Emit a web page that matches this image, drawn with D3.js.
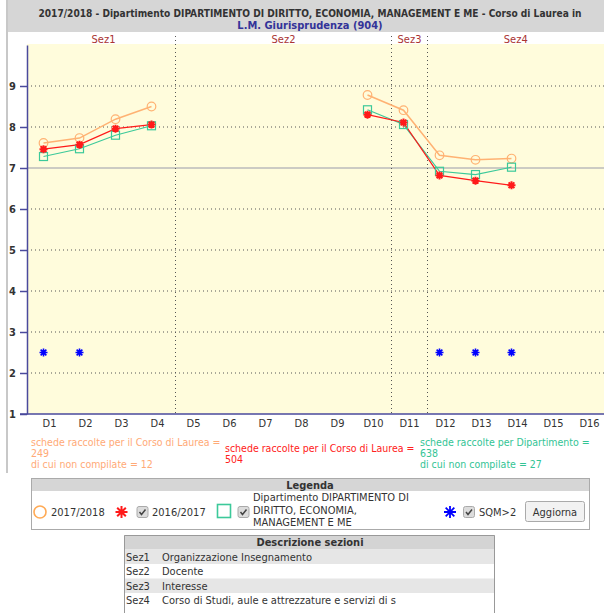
<!DOCTYPE html>
<html>
<head>
<meta charset="utf-8">
<script src="https://cdn.jsdelivr.net/npm/d3@7"></script>
<style>
  body { margin: 0; background: #fff; }
  svg text { font-family: "DejaVu Sans Condensed", "DejaVu Sans", sans-serif; fill: #333; }
</style>
</head>
<body>
<svg id="chart" width="604" height="613"></svg>
<script>
// data
const categories = ['D1','D2','D3','D4','D5','D6','D7','D8','D9','D10','D11','D12','D13','D14','D15','D16'];
const yTicks = [1, 2, 3, 4, 5, 6, 7, 8, 9];
const sectionNames = ['Sez1', 'Sez2', 'Sez3', 'Sez4'];
const sectionFirst = ['D1', 'D5', 'D11', 'D12'];
const sectionLast = ['D4', 'D10', 'D11', 'D16'];
const sectionDesc = ['Organizzazione Insegnamento', 'Docente', 'Interesse', 'Corso di Studi, aule e attrezzature e servizi di s'];

const val2018 = [7.61, 7.73, 8.19, 8.50, null, null, null, null, null, 8.78, 8.41, 7.31, 7.20, 7.23, null, null];
const val2017 = [7.46, 7.57, 7.96, 8.06, null, null, null, null, null, 8.30, 8.11, 6.82, 6.69, 6.58, null, null];
const valDip  = [7.28, 7.47, 7.80, 8.03, null, null, null, null, null, 8.42, 8.06, 6.92, 6.84, 7.02, null, null];
const valSqm  = [2.5, 2.5, null, null, null, null, null, null, null, null, null, 2.5, 2.5, 2.5, null, null];
const threshold = 7;

const title1 = '2017/2018 - Dipartimento DIPARTIMENTO DI DIRITTO, ECONOMIA, MANAGEMENT E ME - Corso di Laurea in';
const title2 = 'L.M. Giurisprudenza (904)';

const orange = '#ffb273', red = '#ff1a1a', green = '#3cc99a', blue = '#0000ff', axisCol = '#4a4a9c';

const svg = d3.select('#chart');

//header
svg.append('rect').attr('x', 7).attr('y', 0).attr('width', 597).attr('height', 32).attr('fill', '#d6d6d6');
svg.append('rect').attr('x', 6).attr('y', 0).attr('width', 2).attr('height', 473).attr('fill', '#c8c8c8');
svg.append('text').attr('x', 310).attr('y', 17).attr('text-anchor', 'middle')
  .style('font-weight', 'bold').style('font-size', '10.1px').text(title1);
svg.append('text').attr('x', 310).attr('y', 29).attr('text-anchor', 'middle')
  .style('font-weight', 'bold').style('font-size', '11px').style('fill', '#333399').text(title2);

//plot area
const pLeft = 27, pRight = 604, pTop = 44, pBottom = 414;
const x = d3.scaleBand().domain(categories).range([31.5, 607.5]);
const markX = d => x(d) + x.bandwidth() / 2 - 6;
const y = d3.scaleLinear().domain([1, 10]).range([pBottom, pTop + 1]);

svg.append('rect').attr('x', pLeft).attr('y', pTop).attr('width', pRight - pLeft).attr('height', pBottom - pTop)
  .attr('fill', '#fffcdc');

// gridlines
svg.append('g').selectAll('line').data(yTicks.filter(t => t > 1))
  .enter().append('line')
  .attr('x1', pLeft).attr('x2', pRight)
  .attr('y1', d => y(d)).attr('y2', d => y(d))
  .attr('stroke', d => d === threshold ? '#bbb' : '#555')
  .attr('stroke-width', d => d === threshold ? 1.5 : 1)
  .attr('stroke-dasharray', d => d === threshold ? null : '1,3');

// section dividers and labels
const secs = sectionNames.map((n, i) => {
  const x0 = Math.max(x(sectionFirst[i]), pLeft);
  const x1 = Math.min(x(sectionLast[i]) + x.bandwidth(), pRight);
  return {name: n, x0: x0, x1: x1};
});
svg.append('g').selectAll('line').data(secs.slice(0, -1))
  .enter().append('line')
  .attr('x1', d => d.x1).attr('x2', d => d.x1)
  .attr('y1', 36).attr('y2', pBottom)
  .attr('stroke', '#555').attr('stroke-dasharray', '1,3');
svg.append('g').selectAll('text').data(secs)
  .enter().append('text')
  .attr('x', d => (d.x0 + d.x1) / 2).attr('y', 43)
  .attr('text-anchor', 'middle').style('font-size', '11px').style('fill', '#a33')
  .text(d => d.name);

// axes
const yAxis = d3.axisLeft(y).tickValues(yTicks).tickSize(7).tickSizeOuter(0).tickFormat(d3.format('d'));
const gy = svg.append('g').attr('transform', 'translate(' + pLeft + ',0)').call(yAxis);
gy.select('.domain').attr('stroke', axisCol).attr('stroke-width', 1.5);
gy.selectAll('.tick line').attr('stroke', axisCol).attr('stroke-width', 1.5);
gy.selectAll('.tick text').attr('x', -11).style('font-size', '11px').style('font-weight', 'bold')
  .style('font-family', '"DejaVu Sans Condensed", "DejaVu Sans", sans-serif').attr('fill', '#333');

svg.append('line').attr('x1', 20).attr('x2', pRight).attr('y1', pBottom).attr('y2', pBottom)
  .attr('stroke', axisCol).attr('stroke-width', 1.5);

const xAxis = d3.axisBottom(x).tickSize(0).tickPadding(5);
const gx = svg.append('g').attr('transform', 'translate(0,' + pBottom + ')').call(xAxis);
gx.select('.domain').remove();
gx.selectAll('.tick text').style('font-size', '11px')
  .style('font-family', '"DejaVu Sans Condensed", "DejaVu Sans", sans-serif').attr('fill', '#333');

// series
const line = d3.line()
  .defined(d => d.v != null)
  .x(d => markX(d.c))
  .y(d => y(d.v));
const pts = vals => categories.map((c, i) => ({c: c, v: vals[i]}));

const starPath = r => {
  const k = r * 0.72;
  return 'M' + (-r) + ',0L' + r + ',0M0,' + (-r) + 'L0,' + r +
    'M' + (-k) + ',' + (-k) + 'L' + k + ',' + k + 'M' + (-k) + ',' + k + 'L' + k + ',' + (-k);
};

svg.append('path').datum(pts(val2018)).attr('d', line)
  .attr('fill', 'none').attr('stroke', orange).attr('stroke-width', 1.5);
svg.append('path').datum(pts(valDip)).attr('d', line)
  .attr('fill', 'none').attr('stroke', green).attr('stroke-width', 1.2);
svg.append('path').datum(pts(val2017)).attr('d', line)
  .attr('fill', 'none').attr('stroke', red).attr('stroke-width', 1.2);

svg.append('g').selectAll('circle').data(pts(val2018).filter(d => d.v != null))
  .enter().append('circle')
  .attr('cx', d => markX(d.c)).attr('cy', d => y(d.v)).attr('r', 4.3)
  .attr('fill', 'none').attr('stroke', orange).attr('stroke-width', 1.2);

svg.append('g').selectAll('rect').data(pts(valDip).filter(d => d.v != null))
  .enter().append('rect')
  .attr('x', d => markX(d.c) - 4).attr('y', d => y(d.v) - 4).attr('width', 8).attr('height', 8)
  .attr('fill', 'none').attr('stroke', green).attr('stroke-width', 1.2);

svg.append('g').selectAll('path').data(pts(val2017).filter(d => d.v != null))
  .enter().append('path')
  .attr('transform', d => 'translate(' + markX(d.c) + ',' + y(d.v) + ')')
  .attr('d', starPath(4)).attr('stroke', red).attr('stroke-width', 2);

svg.append('g').selectAll('path').data(pts(valSqm).filter(d => d.v != null))
  .enter().append('path')
  .attr('transform', d => 'translate(' + markX(d.c) + ',' + y(d.v) + ')')
  .attr('d', starPath(4)).attr('stroke', blue).attr('stroke-width', 1.6);

// notes under the chart
const notes = [
  {x: 31, y: 446, c: '#ffaa77', lines: ['schede raccolte per il Corso di Laurea =', '249', 'di cui non compilate = 12']},
  {x: 225, y: 452, c: '#ff2020', lines: ['schede raccolte per il Corso di Laurea =', '504']},
  {x: 420, y: 446, c: '#33c495', lines: ['schede raccolte per Dipartimento =', '638', 'di cui non compilate = 27']}
];
notes.forEach(n => {
  const t = svg.append('text').attr('x', n.x).attr('y', n.y).style('font-size', '10.5px').style('fill', n.c);
  n.lines.forEach((l, i) => t.append('tspan').attr('x', n.x).attr('dy', i ? 11 : 0).text(l));
});

// legend box
const lg = svg.append('g');
lg.append('rect').attr('x', 31.5).attr('y', 478.5).attr('width', 558).attr('height', 51)
  .attr('fill', '#fff').attr('stroke', '#aaa');
lg.append('rect').attr('x', 32).attr('y', 479).attr('width', 557).attr('height', 12).attr('fill', '#d6d6d6');
lg.append('text').attr('x', 310).attr('y', 489).attr('text-anchor', 'middle')
  .style('font-weight', 'bold').style('font-size', '11px').text('Legenda');

const checkbox = (cx, cy) => {
  lg.append('rect').attr('x', cx - 5.5).attr('y', cy - 5.5).attr('width', 11).attr('height', 11).attr('rx', 2)
    .attr('fill', '#dcdcdc').attr('stroke', '#aaa');
  lg.append('path').attr('d', 'M' + (cx - 3) + ',' + cy + 'l2,2.5l4,-5')
    .attr('fill', 'none').attr('stroke', '#444').attr('stroke-width', 1.5);
};
const ly = 512;
lg.append('circle').attr('cx', 40).attr('cy', ly).attr('r', 6).attr('fill', 'none')
  .attr('stroke', '#ffaa55').attr('stroke-width', 1.6);
lg.append('text').attr('x', 51).attr('y', ly + 4).style('font-size', '11px').text('2017/2018');
lg.append('path').attr('transform', 'translate(121.5,' + ly + ')').attr('d', starPath(6))
  .attr('stroke', red).attr('stroke-width', 2);
checkbox(142.5, ly);
lg.append('text').attr('x', 152).attr('y', ly + 4).style('font-size', '11px').text('2016/2017');
lg.append('rect').attr('x', 217.5).attr('y', 504.5).attr('width', 13).attr('height', 13)
  .attr('fill', 'none').attr('stroke', green).attr('stroke-width', 1.6);
checkbox(243.5, ly);
const dt = lg.append('text').attr('x', 253).attr('y', 501).style('font-size', '11px');
['Dipartimento DIPARTIMENTO DI', 'DIRITTO, ECONOMIA,', 'MANAGEMENT E ME'].forEach((l, i) =>
  dt.append('tspan').attr('x', 253).attr('dy', i ? 12.5 : 0).text(l));
lg.append('path').attr('transform', 'translate(450,' + ly + ')').attr('d', starPath(6))
  .attr('stroke', blue).attr('stroke-width', 1.8);
checkbox(469, ly);
lg.append('text').attr('x', 479).attr('y', ly + 4).style('font-size', '11px').text('SQM>2');
lg.append('rect').attr('x', 525.5).attr('y', 501.5).attr('width', 59).attr('height', 20).attr('rx', 2)
  .attr('fill', '#f2f2f2').attr('stroke', '#aaa');
lg.append('text').attr('x', 555).attr('y', ly + 4).attr('text-anchor', 'middle').style('font-size', '11px').text('Aggiorna');

// section description table
const tb = svg.append('g');
const tx0 = 124, tx1 = 495, ty0 = 535, rowH = 14.5;
tb.append('rect').attr('x', tx0).attr('y', ty0).attr('width', tx1 - tx0).attr('height', rowH)
  .attr('fill', '#d4d4d4');
tb.append('text').attr('x', 310).attr('y', ty0 + 11).attr('text-anchor', 'middle')
  .style('font-weight', 'bold').style('font-size', '11px').text('Descrizione sezioni');
sectionNames.forEach((n, i) => {
  const ry = ty0 + rowH * (i + 1);
  tb.append('rect').attr('x', tx0).attr('y', ry).attr('width', tx1 - tx0).attr('height', rowH)
    .attr('fill', i % 2 === 0 ? '#e6e6e6' : '#fff');
  tb.append('text').attr('x', tx0 + 2).attr('y', ry + 11).style('font-size', '11px').text(n);
  tb.append('text').attr('x', tx0 + 38).attr('y', ry + 11).style('font-size', '11px').text(sectionDesc[i]);
});
tb.append('path').attr('d', 'M' + (tx0 + 0.5) + ',613V' + (ty0 + 0.5) + 'H' + (tx1 - 0.5) + 'V613')
  .attr('fill', 'none').attr('stroke', '#999');
</script>
</body>
</html>
